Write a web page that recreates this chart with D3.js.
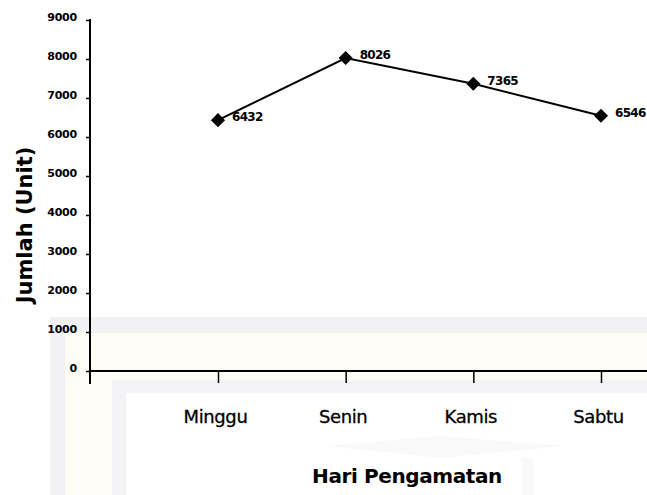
<!DOCTYPE html>
<html>
<head>
<meta charset="utf-8">
<script src="https://cdn.jsdelivr.net/npm/d3@7"></script>
<style>
  html, body { margin: 0; padding: 0; background: #fff; }
  svg { display: block; }
  text { font-family: "DejaVu Sans", sans-serif; fill: #000; }
</style>
</head>
<body>
<svg id="chart" width="647" height="495"></svg>
<script>
// Vehicle counts per observation day
const days = ["Minggu", "Senin", "Kamis", "Sabtu"];
const counts = [6432, 8026, 7365, 6546];
const yTicks = [0, 1000, 2000, 3000, 4000, 5000, 6000, 7000, 8000, 9000];
const yTitle = "Jumlah (Unit)";
const xTitle = "Hari Pengamatan";

const svg = d3.select("#chart");

// faint background panels behind the lower half of the chart
const bg = svg.append("g");
bg.append("rect").attr("x", 50).attr("y", 317).attr("width", 597).attr("height", 178).attr("fill", "#f2f2f4");
bg.append("rect").attr("x", 65).attr("y", 333).attr("width", 582).attr("height", 162).attr("fill", "#fefdf5");
bg.append("rect").attr("x", 112).attr("y", 380).attr("width", 535).attr("height", 115).attr("fill", "#f3f3f5");
bg.append("rect").attr("x", 126).attr("y", 393).attr("width", 521).attr("height", 102).attr("fill", "#ffffff");
bg.append("path").attr("d", "M327,446 L440,436 L564,446 L440,458 Z").attr("fill", "#f9f9fa");
bg.append("rect").attr("x", 522).attr("y", 458).attr("width", 11).attr("height", 37).attr("fill", "#f9f9fa");

const axisX = 90;
const y = d3.scaleLinear().domain([0, 9000]).range([371, 20]);
const x = d3.scalePoint().domain(days).range([218, 601]);

// y axis
const yAxis = svg.append("g").attr("transform", `translate(${axisX},0)`)
  .call(d3.axisLeft(y).tickValues(yTicks).tickSize(4).tickPadding(9).tickFormat(d3.format("d")));
yAxis.select(".domain").remove();
yAxis.selectAll(".tick line").attr("stroke", "#000").attr("stroke-width", 1.5);
yAxis.selectAll(".tick text").attr("font-size", 11).attr("font-weight", "bold")
  .attr("font-family", "'DejaVu Sans', sans-serif").attr("dy", "0.05em").attr("letter-spacing", -0.2);
svg.append("line").attr("x1", axisX).attr("x2", axisX).attr("y1", 19).attr("y2", 384)
  .attr("stroke", "#000").attr("stroke-width", 2);

// x axis
svg.append("line").attr("x1", axisX).attr("x2", 647).attr("y1", y(0)).attr("y2", y(0))
  .attr("stroke", "#000").attr("stroke-width", 2);
const xAxis = svg.append("g").attr("transform", `translate(0,${y(0)})`)
  .call(d3.axisBottom(x).tickSize(12).tickPadding(27));
xAxis.select(".domain").remove();
xAxis.selectAll(".tick line").attr("stroke", "#000").attr("stroke-width", 1.5);
xAxis.selectAll(".tick text").attr("font-size", 18).attr("font-family", "'DejaVu Sans', sans-serif")
  .attr("letter-spacing", -0.4).attr("dx", -3)
  .attr("stroke", "#000").attr("stroke-width", 0.3);

// line and diamond markers
const line = d3.line().x((d, i) => x(days[i])).y(d => y(d));
svg.append("path").datum(counts).attr("d", line)
  .attr("fill", "none").attr("stroke", "#000").attr("stroke-width", 2);
svg.selectAll(".pt").data(counts).join("path").attr("class", "pt")
  .attr("transform", (d, i) => `translate(${x(days[i])},${y(d)}) rotate(45)`)
  .attr("d", d3.symbol(d3.symbolSquare, 100))
  .attr("fill", "#000");

// value labels
svg.selectAll(".val").data(counts).join("text").attr("class", "val")
  .attr("x", (d, i) => x(days[i]) + 14)
  .attr("y", d => y(d) + 1)
  .attr("font-size", 12).attr("font-weight", "bold").attr("letter-spacing", -0.7)
  .text(d => d);

// axis titles
svg.append("text").attr("transform", "translate(32,225) rotate(-90)")
  .attr("text-anchor", "middle").attr("font-size", 21).attr("font-weight", "bold")
  .attr("letter-spacing", 0).text(yTitle);
svg.append("text").attr("x", 407).attr("y", 483)
  .attr("text-anchor", "middle").attr("font-size", 20).attr("font-weight", "bold")
  .attr("letter-spacing", -0.4).text(xTitle);
</script>
</body>
</html>
